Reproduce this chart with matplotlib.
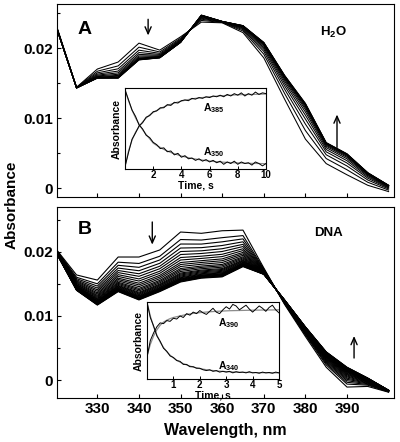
import numpy as np
import matplotlib
matplotlib.use("Agg")
from matplotlib import pyplot as plt
from matplotlib.ticker import MultipleLocator, FuncFormatter

plt.rcParams['font.family'] = ['Liberation Sans', 'DejaVu Sans']
plt.rcParams['font.weight'] = 'bold'
plt.rcParams['mathtext.fontset'] = 'custom'
plt.rcParams['mathtext.rm'] = 'Liberation Sans:bold'
plt.rcParams['mathtext.it'] = 'Liberation Sans:bold'
plt.rcParams['mathtext.bf'] = 'Liberation Sans:bold'

# wavelengths (nm)
wavelength = [320, 325, 330, 335, 340, 345, 350, 355, 360, 365, 370, 375, 380, 385, 390, 395, 400]
wl_ticks = [330, 340, 350, 360, 370, 380, 390]

# panel A (H2O): first and last spectrum
h2o_first = [0.0235, 0.0144, 0.0170, 0.0180, 0.0207, 0.0197, 0.0216, 0.0237, 0.0236, 0.0222,
             0.0186, 0.0127, 0.0070, 0.0035, 0.0019, 0.0004, -0.0005]
h2o_last = [0.0232, 0.0143, 0.0157, 0.0157, 0.0183, 0.0186, 0.0208, 0.0247, 0.0238, 0.0232,
            0.0208, 0.0161, 0.0121, 0.0065, 0.0049, 0.0022, 0.0004]
# remaining fraction of the first spectrum in each recorded trace
h2o_frac = [1.0, 0.76, 0.58, 0.44, 0.33, 0.24, 0.17, 0.12, 0.08, 0.05, 0.035, 0.02, 0.01, 0.0]

# panel B (DNA)
dna_first = [0.0205, 0.0164, 0.0156, 0.0192, 0.0192, 0.0203, 0.0231, 0.0229, 0.0233, 0.0234,
             0.0175, 0.0118, 0.0068, 0.0020, -0.0011, -0.0010, -0.0019]
dna_last = [0.0200, 0.0140, 0.0117, 0.0138, 0.0125, 0.0138, 0.0153, 0.0159, 0.0161, 0.0177,
            0.0165, 0.0125, 0.0083, 0.0044, 0.0020, 0.0003, -0.0016]
dna_frac = [1.0, 0.85, 0.76, 0.68, 0.61, 0.55, 0.49, 0.44, 0.39, 0.35, 0.31, 0.27, 0.24,
            0.21, 0.18, 0.16, 0.14, 0.12, 0.10, 0.085, 0.07, 0.06, 0.05, 0.04, 0.03, 0.02,
            0.01, 0.0]

# inset A kinetics (normalised), 0-10 s
tA = np.arange(0, 10.01, 0.25)
a385_data = [0.02, 0.20, 0.37, 0.45, 0.54, 0.58, 0.65, 0.67, 0.72, 0.73, 0.77, 0.77, 0.81, 0.80,
             0.84, 0.83, 0.86, 0.87, 0.86, 0.89, 0.88, 0.90, 0.89, 0.91, 0.90, 0.92, 0.91, 0.93,
             0.91, 0.94, 0.92, 0.95, 0.93, 0.96, 0.92, 0.95, 0.93, 0.97, 0.94, 0.96, 0.95]
a385_fit = [0.02, 0.22, 0.36, 0.46, 0.53, 0.59, 0.64, 0.68, 0.71, 0.735, 0.76, 0.78, 0.80, 0.815,
            0.83, 0.843, 0.855, 0.865, 0.875, 0.883, 0.89, 0.895, 0.90, 0.905, 0.91, 0.914, 0.918,
            0.922, 0.925, 0.928, 0.93, 0.933, 0.935, 0.937, 0.938, 0.939, 0.94, 0.941, 0.942,
            0.944, 0.945]
a350_data = [1.0, 0.87, 0.74, 0.66, 0.55, 0.50, 0.42, 0.39, 0.33, 0.30, 0.25, 0.26, 0.21, 0.22,
             0.17, 0.19, 0.14, 0.16, 0.12, 0.13, 0.10, 0.12, 0.09, 0.11, 0.08, 0.10, 0.07, 0.09,
             0.05, 0.08, 0.06, 0.09, 0.05, 0.08, 0.06, 0.07, 0.04, 0.08, 0.06, 0.03, 0.06]
a350_fit = [1.0, 0.86, 0.74, 0.64, 0.56, 0.49, 0.43, 0.375, 0.32, 0.29, 0.265, 0.24, 0.22, 0.20,
            0.185, 0.17, 0.155, 0.145, 0.135, 0.125, 0.117, 0.11, 0.103, 0.097, 0.092, 0.087,
            0.083, 0.08, 0.077, 0.074, 0.072, 0.07, 0.068, 0.066, 0.064, 0.063, 0.062, 0.061,
            0.06, 0.059, 0.058]

# inset B kinetics (normalised), 0-5 s
tB = np.arange(0, 5.001, 0.125)
a390_data = [0.28, 0.50, 0.60, 0.68, 0.73, 0.72, 0.76, 0.75, 0.79, 0.78, 0.82, 0.80, 0.85, 0.83,
             0.87, 0.85, 0.89, 0.86, 0.84, 0.88, 0.92, 0.87, 0.85, 0.90, 0.94, 0.91, 0.97, 0.95,
             0.90, 0.93, 0.96, 0.91, 0.87, 0.91, 0.95, 0.92, 0.88, 0.93, 0.96, 0.90, 0.86]
a390_fit = [0.30, 0.45, 0.56, 0.64, 0.70, 0.74, 0.765, 0.785, 0.80, 0.81, 0.82, 0.83, 0.84, 0.847,
            0.853, 0.858, 0.863, 0.867, 0.871, 0.874, 0.877, 0.88, 0.882, 0.884, 0.886, 0.888,
            0.889, 0.89, 0.891, 0.892, 0.893, 0.894, 0.895, 0.896, 0.896, 0.897, 0.897, 0.898,
            0.898, 0.899, 0.90]
a340_data = [1.0, 0.80, 0.69, 0.56, 0.49, 0.40, 0.36, 0.30, 0.28, 0.24, 0.23, 0.19, 0.19, 0.16,
             0.16, 0.14, 0.14, 0.12, 0.11, 0.12, 0.10, 0.11, 0.09, 0.10, 0.09, 0.10, 0.08, 0.095,
             0.085, 0.09, 0.08, 0.095, 0.08, 0.085, 0.075, 0.09, 0.08, 0.085, 0.075, 0.09, 0.08]
a340_fit = [1.0, 0.82, 0.68, 0.57, 0.48, 0.41, 0.355, 0.31, 0.275, 0.245, 0.22, 0.20, 0.183,
            0.168, 0.156, 0.145, 0.136, 0.128, 0.121, 0.115, 0.11, 0.106, 0.102, 0.099, 0.096,
            0.094, 0.092, 0.09, 0.088, 0.087, 0.086, 0.085, 0.084, 0.083, 0.083, 0.082, 0.082,
            0.081, 0.081, 0.08, 0.08]


def style_main(ax, ylim):
    ax.set_xlim(320.3, 401.3)
    ax.set_ylim(*ylim)
    ax.set_xticks(wl_ticks)
    ax.yaxis.set_major_locator(MultipleLocator(0.01))
    ax.yaxis.set_minor_locator(MultipleLocator(0.005))
    ax.yaxis.set_major_formatter(FuncFormatter(lambda v, p: "0" if abs(v) < 1e-9 else f"{v:.2f}"))
    ax.tick_params(direction="in", length=3, width=0.8, labelsize=11, pad=3)
    ax.tick_params(which="minor", direction="in", length=2, width=0.8)
    ax.tick_params(axis="x", which="minor", bottom=False)
    for s in ax.spines.values():
        s.set_linewidth(0.8)


def draw_spectra(ax, first, last, fracs, lw):
    first = np.array(first)
    last = np.array(last)
    for f in fracs:
        ax.plot(wavelength, last + (first - last) * f, color="black", lw=lw)


def style_inset(ax, xlim, xticks, ylim):
    ax.set_xlim(*xlim)
    ax.set_ylim(*ylim)
    ax.set_xticks(xticks)
    ax.set_yticks([])
    ax.tick_params(direction="in", length=2, width=0.7, labelsize=7, pad=1)
    ax.set_ylabel("Absorbance", fontsize=7.5, fontweight="bold", labelpad=2)
    ax.set_xlabel("Time, s", fontsize=7.5, fontweight="bold", labelpad=0)
    for s in ax.spines.values():
        s.set_linewidth(0.8)


arrow_style = dict(arrowstyle="->,head_length=0.5,head_width=0.22", lw=1.0, color="black")

fig = plt.figure(figsize=(4.0, 4.42), dpi=100)

# ---- panel A
axA = fig.add_axes([0.1425, 0.554, 0.8425, 0.437])
draw_spectra(axA, h2o_first, h2o_last, h2o_frac, 0.75)
style_main(axA, (-0.00129, 0.02629))
axA.tick_params(axis="x", labelbottom=False)
axA.text(0.083, 0.87, "A", transform=axA.transAxes, fontsize=14, fontweight="bold", ha="center", va="center")
axA.text(0.82, 0.855, "H$_{2}$O", transform=axA.transAxes, fontsize=9.5, ha="center", va="center")
axA.annotate("", xy=(342.2, 0.0214), xytext=(342.2, 0.0245), arrowprops=arrow_style)
axA.annotate("", xy=(387.6, 0.0109), xytext=(387.6, 0.0054), arrowprops=arrow_style)

# ---- panel B
axB = fig.add_axes([0.1425, 0.0995, 0.8425, 0.4325])
draw_spectra(axB, dna_first, dna_last, dna_frac, 0.8)
style_main(axB, (-0.00281, 0.02703))
axB.text(0.083, 0.88, "B", transform=axB.transAxes, fontsize=14, fontweight="bold", ha="center", va="center")
axB.text(0.805, 0.864, "DNA", transform=axB.transAxes, fontsize=9.5, ha="center", va="center")
axB.annotate("", xy=(343.2, 0.0207), xytext=(343.2, 0.0251), arrowprops=arrow_style)
axB.annotate("", xy=(391.7, 0.0073), xytext=(391.7, 0.0030), arrowprops=arrow_style)

fig.text(0.03, 0.536, "Absorbance", rotation=90, fontsize=11, fontweight="bold", ha="center", va="center")
fig.text(0.5625, 0.027, "Wavelength, nm", fontsize=11.5, fontweight="bold", ha="center", va="center")

# ---- inset A
inA = fig.add_axes([0.3125, 0.6176, 0.3525, 0.183])
inA.plot(tA, a385_fit, color="0.55", lw=0.9)
inA.plot(tA, a350_fit, color="0.55", lw=0.9)
inA.plot(tA, a385_data, color="black", lw=0.7)
inA.plot(tA, a350_data, color="black", lw=0.7)
style_inset(inA, (0, 10), [2, 4, 6, 8, 10], (-0.01, 1.02))
inA.text(5.5, 0.77, "A$_{385}$", fontsize=7.5, va="center")
inA.text(5.5, 0.20, "A$_{350}$", fontsize=7.5, va="center")

# ---- inset B
inB = fig.add_axes([0.3675, 0.1425, 0.33, 0.174])
inB.plot(tB, a390_fit, color="0.55", lw=0.9)
inB.plot(tB, a340_fit, color="0.55", lw=0.9)
inB.plot(tB, a390_data, color="black", lw=0.7)
inB.plot(tB, a340_data, color="black", lw=0.7)
style_inset(inB, (0, 5), [1, 2, 3, 4, 5], (0.0, 1.0))
inB.text(2.7, 0.73, "A$_{390}$", fontsize=7.5, va="center")
inB.text(2.7, 0.17, "A$_{340}$", fontsize=7.5, va="center")

fig.savefig("out.png", dpi=100)
plt.close(fig)
